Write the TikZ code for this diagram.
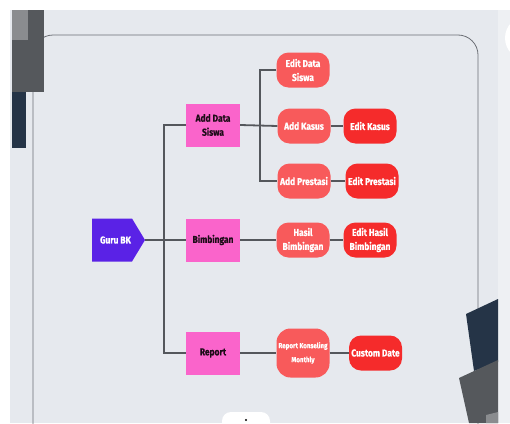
\documentclass[tikz,border=0pt]{standalone}
\usepackage{fontspec}
\setmainfont{Fira Sans}
\newfontfamily\labelfont[FakeStretch=0.84, FakeBold=0.6]{Fira Sans Bold}

\definecolor{canvas}{HTML}{E6E9EE}
\definecolor{canvasedge}{HTML}{EEF0F3}
\definecolor{framegray}{HTML}{6C6F75}
\definecolor{linkgray}{HTML}{54575C}
\definecolor{slate}{HTML}{55585C}
\definecolor{slatelight}{HTML}{8A8C8F}
\definecolor{navy}{HTML}{253447}
\definecolor{rootpurple}{HTML}{5A22E6}
\definecolor{stagepink}{HTML}{FA64CB}
\definecolor{stepsalmon}{HTML}{F85A5B}
\definecolor{stepred}{HTML}{F52B2B}

\tikzset{
  link/.style={draw=linkgray, line width=1.8pt},
  rootbox/.style={rectangle, text=white, minimum width=53pt, minimum height=43pt,
    inner sep=0pt, font=\labelfont\fontsize{10}{12}\selectfont,
    path picture={\fill[rootpurple]
      (path picture bounding box.south west) --
      ([xshift=-13pt]path picture bounding box.south east) --
      (path picture bounding box.east) --
      ([xshift=-13pt]path picture bounding box.north east) --
      (path picture bounding box.north west) -- cycle;}},
  stagebox/.style={rectangle, fill=stagepink, text=black!88!stagepink,
    minimum width=54pt, minimum height=43pt, inner sep=1pt, align=center,
    font=\labelfont\fontsize{10}{14}\selectfont},
  stepbox/.style={rectangle, rounded corners=12pt, fill=stepsalmon, text=white,
    minimum width=53pt, minimum height=35pt, inner sep=1pt, align=center,
    font=\labelfont\fontsize{10}{14}\selectfont},
  editbox/.style={stepbox, fill=stepred},
}

\begin{document}
\begin{tikzpicture}[x=1pt, y=-1pt]
\useasboundingbox (0,0) rectangle (510,423);
\clip (0,0) rectangle (510,423);

% page background
\fill[white] (0,0) rectangle (510,423);
\fill[canvas] (10,10) rectangle (510,423);
\fill[canvasedge] (498,10) rectangle (510,423);
\fill[white] (527,38) circle (22);
\fill[white] (222,412) [rounded corners=9pt] rectangle (270,440);
\fill[black] (246,420) circle (1.2);

% board frame
\draw[framegray, line width=0.8pt, rounded corners=20pt] (33,35) rectangle (478,445);

% decorative blocks
\fill[slate] (12,10) rectangle (44,92);
\fill[slatelight] (12,10) rectangle (28,40);
\fill[navy] (12,92) rectangle (26,148);
\fill[navy] (466,314) -- (498,299) -- (498,362) -- (474,371) -- cycle;
\fill[slate] (459,378) -- (498,360) -- (498,423) -- (469,423) -- cycle;
\fill[slatelight] (486,415) -- (498,412) -- (498,423) -- (486,423) -- cycle;

% nodes
\node[rootbox] (guru) at (118.5,240) {\hspace*{-6pt}Guru BK};

\node[stagebox] (add) at (213,125) {Add Data\\Siswa};
\node[stagebox] (bimb) at (213,240) {Bimbingan};
\node[stagebox] (rep) at (213,353) {Report};

\node[stepbox] (eds) at (303,70) {Edit Data\\Siswa};
\node[stepbox] (ak) at (304,126) {Add Kasus};
\node[editbox] (ek) at (370,126) {Edit Kasus};
\node[stepbox] (ap) at (304,181) {Add Prestasi};
\node[editbox] (ep) at (372,181) {Edit Prestasi};
\node[stepbox] (hb) at (303,240) {Hasil\\Bimbingan};
\node[editbox] (ehb) at (370,240) {Edit Hasil\\Bimbingan};
\node[stepbox, minimum height=49pt, rounded corners=14pt,
      font=\labelfont\fontsize{7.4}{14}\selectfont] (rkm) at (303,353) {Report Konseling\\Monthly};
\node[editbox, font=\labelfont\fontsize{10}{12}\selectfont] (cd) at (375.5,353) {Custom Date};

% junction points
\coordinate (t1) at (164,125);
\coordinate (t2) at (164,353);
\coordinate (b1) at (260,70);
\coordinate (b2) at (260,181);

% connectors
\path[link] (guru.east) -- (bimb.west);
\path[link] (add.west) -- (t1) -- (t2) -- (rep.west);
\path[link] (eds.west) -- (b1) -- (b2) -- (ap.west);
\path[link] (add.east) -- (ak.west);
\path[link] (ak.east) -- (ek.west);
\path[link] (ap.east) -- (ep.west);
\path[link] (bimb.east) -- (hb.west);
\path[link] (hb.east) -- (ehb.west);
\path[link] (rep.east) -- (rkm.west);
\path[link] (rkm.east) -- (cd.west);
\end{tikzpicture}
\end{document}
